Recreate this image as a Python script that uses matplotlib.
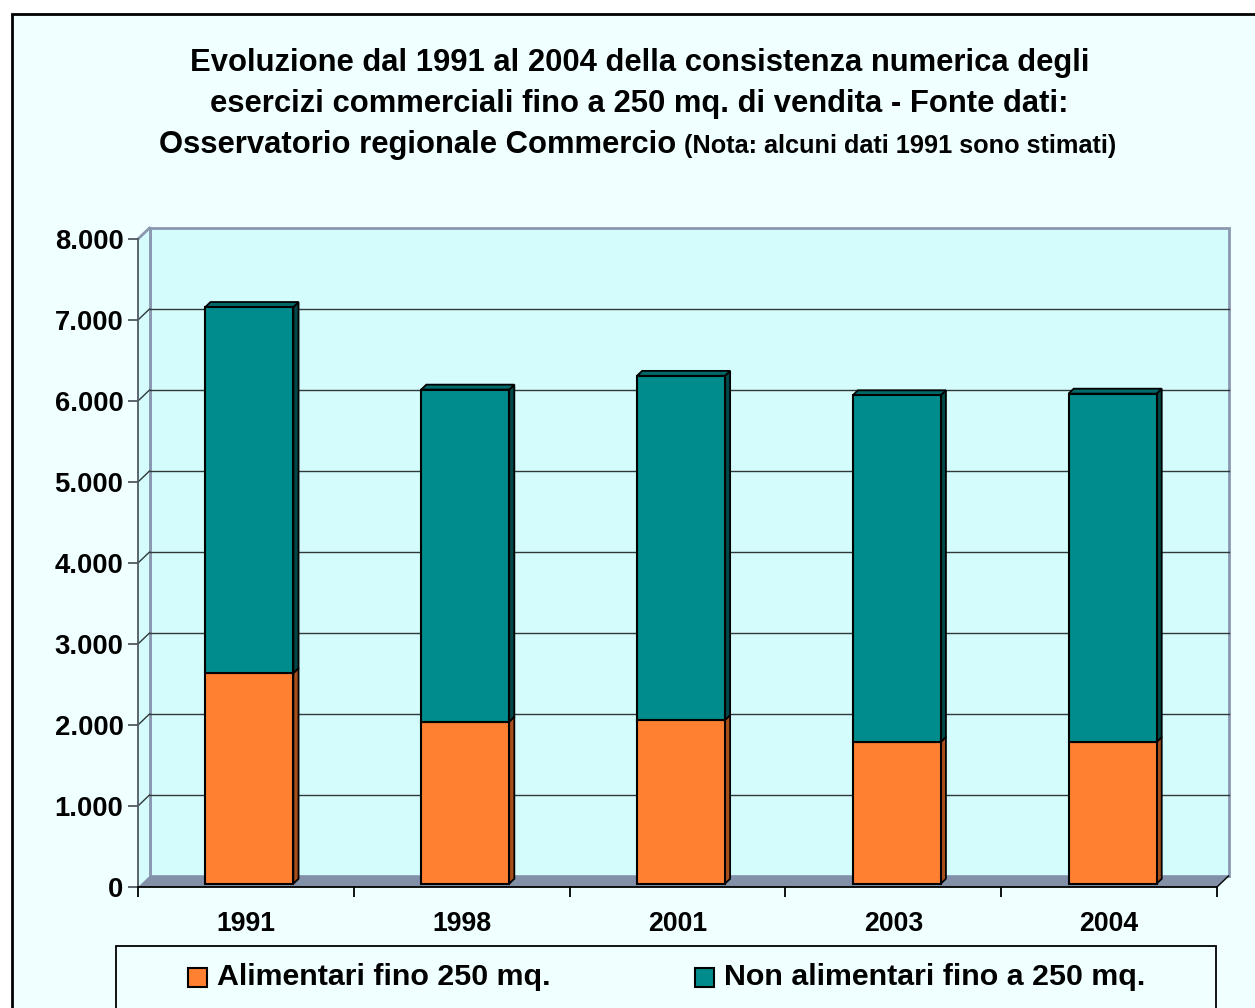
import matplotlib.pyplot as plt
from matplotlib.patches import Polygon, Rectangle
from matplotlib.ticker import FuncFormatter

plt.rcParams["font.family"] = ["Liberation Sans", "DejaVu Sans"]
plt.rcParams["font.weight"] = "bold"

years = ["1991", "1998", "2001", "2003", "2004"]
alimentari = [2600, 2000, 2020, 1750, 1750]
non_alimentari = [4520, 4100, 4250, 4280, 4300]
series_names = ["Alimentari fino 250 mq.", "Non alimentari fino a 250 mq."]
y_ticks = list(range(0, 8001, 1000))

W, H = 1255, 1008
BG = "#F0FFFF"
WALL = "#D4FCFC"
FLOOR = "#8290A8"
WALL_EDGE = "#8A98B0"
front_colors = ["#FF8030", "#008C8C"]
top_colors = ["#E06820", "#006A6A"]
side_colors = ["#A8501C", "#004848"]

# depth offsets of the 3d box, in data units (11.5 px right, 11 px up)
DX = 11.5 / 215.8
DY = 11 / 0.081
ZF, ZB = 0.3, 0.75
BAR_W = 88 / 215.8


def fx(px):
    return px / W


def fy(py):
    return 1 - py / H


fig = plt.figure(figsize=(W / 100, H / 100), dpi=100)
fig.patch.set_facecolor("white")
fig.patches.append(Rectangle((fx(12), -0.1), 1.2, fy(14) + 0.1, transform=fig.transFigure,
                             facecolor=BG, edgecolor="black", lw=2, zorder=-2))

ax = fig.add_axes([fx(138), fy(887), 1079 / W, 648 / H])
ax.set_facecolor("none")
n = len(years)
ax.set_xlim(0, n)
ax.set_ylim(0, 8000)

# back wall, side wall, floor
ax.add_patch(Rectangle((DX, DY), n, 8000, facecolor=WALL, edgecolor=WALL_EDGE,
                       lw=2, clip_on=False, zorder=0))
ax.add_patch(Polygon([(0, 0), (DX, DY), (DX, 8000 + DY), (0, 8000)], closed=True,
                     facecolor=WALL, edgecolor="none", clip_on=False, zorder=0.5))
ax.plot([0, DX], [8000, 8000 + DY], color=WALL_EDGE, lw=2, clip_on=False, zorder=0.6)
ax.plot([DX, DX], [DY, 8000 + DY], color=WALL_EDGE, lw=2, clip_on=False, zorder=0.6)
for v in y_ticks[1:-1]:
    ax.plot([DX, n + DX], [v + DY, v + DY], color="#303838", lw=1, clip_on=False, zorder=1)
    ax.plot([0, DX], [v, v + DY], color="#303838", lw=1, clip_on=False, zorder=1)
ax.add_patch(Polygon([(0, 0), (n, 0), (n + DX, DY), (DX, DY)], closed=True,
                     facecolor=FLOOR, edgecolor="none", clip_on=False, zorder=1.5))
ax.plot([n, n + DX], [0, DY], color="black", lw=1, clip_on=False, zorder=1.6)

# stacked 3d bars
ddx, ddy = (ZB - ZF) * DX, (ZB - ZF) * DY
base = ZF * DY
for i in range(n):
    xc = i + 0.5 + ZF * DX
    xl, xr = xc - BAR_W / 2, xc + BAR_W / 2
    bottom = base
    for k, vals in enumerate([alimentari, non_alimentari]):
        top = bottom + vals[i]
        ax.add_patch(Polygon([(xr, bottom), (xr + ddx, bottom + ddy), (xr + ddx, top + ddy), (xr, top)],
                             closed=True, facecolor=side_colors[k], edgecolor="black", lw=1.3,
                             clip_on=False, zorder=3))
        ax.bar(xc, vals[i], BAR_W, bottom=bottom, color=front_colors[k], edgecolor="black",
               lw=1.5, zorder=4, clip_on=False)
        bottom = top
    ax.add_patch(Polygon([(xl, bottom), (xr, bottom), (xr + ddx, bottom + ddy), (xl + ddx, bottom + ddy)],
                         closed=True, facecolor=top_colors[1], edgecolor="black", lw=1.3,
                         clip_on=False, zorder=3))

# axes
for s in ["top", "right"]:
    ax.spines[s].set_visible(False)
ax.spines["left"].set_color("#505860")
ax.spines["left"].set_linewidth(1.3)
ax.spines["bottom"].set_color("black")
ax.spines["bottom"].set_linewidth(1.3)
ax.spines["left"].set_zorder(5)
ax.spines["bottom"].set_zorder(5)

ax.set_yticks(y_ticks)
ax.yaxis.set_major_formatter(FuncFormatter(lambda v, p: f"{v:,.0f}".replace(",", ".")))
ax.tick_params(axis="y", direction="out", length=7.5, width=1.3, color="#505860",
               labelsize=19.8, pad=3)
ax.set_xticks(range(n + 1))
ax.set_xticklabels([])
ax.set_xticks([i + 0.5 for i in range(n)], minor=True)
ax.set_xticklabels(years, minor=True, fontsize=19.2, fontweight="bold")
ax.tick_params(axis="x", which="major", direction="out", length=7.5, width=1.3, color="black")
ax.tick_params(axis="x", which="minor", length=0, pad=17)
for lab in ax.get_yticklabels():
    lab.set_fontweight("bold")

# title
fig.text(fx(640), fy(63), "Evoluzione dal 1991 al 2004 della consistenza numerica degli",
         ha="center", va="center", fontsize=22.3, fontweight="bold")
fig.text(fx(639), fy(104), "esercizi commerciali fino a 250 mq. di vendita - Fonte dati:",
         ha="center", va="center", fontsize=22.3, fontweight="bold")
fig.text(fx(676), fy(145), "Osservatorio regionale Commercio",
         ha="right", va="center", fontsize=22.3, fontweight="bold")
fig.text(fx(684), fy(146), "(Nota: alcuni dati 1991 sono stimati)",
         ha="left", va="center", fontsize=18.2, fontweight="bold")

# legend
fig.patches.append(Rectangle((fx(116), -0.1), fx(1216) - fx(116), fy(946) + 0.1,
                             transform=fig.transFigure, facecolor=BG, edgecolor="black",
                             lw=1.3, zorder=1))
for k, (sx, tx) in enumerate([(188, 217), (695, 724)]):
    fig.patches.append(Rectangle((fx(sx), fy(987)), 19 / W, 19 / H, transform=fig.transFigure,
                                 facecolor=front_colors[k], edgecolor="black", lw=1.5, zorder=2))
    fig.text(fx(tx), fy(977), series_names[k], ha="left", va="center",
             fontsize=21.9, fontweight="bold")

fig.savefig("out.png", dpi=100, facecolor=fig.get_facecolor())
